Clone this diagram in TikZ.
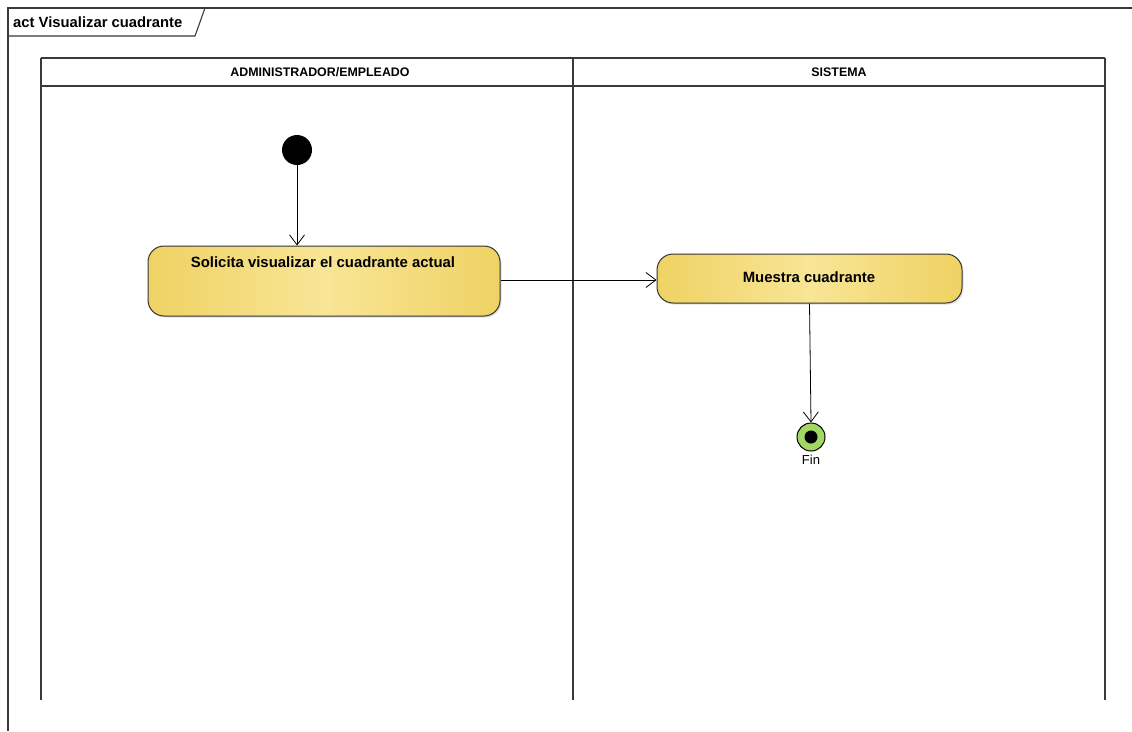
\documentclass[tikz,border=0pt]{standalone}
\usepackage{fontspec}
\setmainfont{Liberation Sans}
\usetikzlibrary{arrows.meta,shadows}
\definecolor{lanegray}{HTML}{3A3A3A}
\definecolor{golddark}{HTML}{EFD263}
\definecolor{goldlight}{HTML}{F8E596}
\definecolor{endgreen}{HTML}{A2D764}
\tikzset{
  lane/.style={draw=lanegray, line width=1.4pt},
  frameline/.style={draw=lanegray, line width=1.1pt},
  action/.style={draw=black!80, line width=1pt, rounded corners=16pt,
    left color=golddark, right color=golddark, middle color=goldlight,
    drop shadow={shadow xshift=1.5pt, shadow yshift=-1.5pt, opacity=0.25}},
  acttext/.style={font=\fontsize{14.9}{17}\selectfont\bfseries},
  flow/.style={draw=black, line width=0.8pt, -{Straight Barb[length=10pt,width=15pt,line width=0.8pt]}},
  hdr/.style={font=\fontsize{12.4}{14}\selectfont\bfseries, text=black}
}
\begin{document}
\begin{tikzpicture}[x=1pt,y=-1pt]
\useasboundingbox (0,0) rectangle (1132,731);
\fill[white] (0,0) rectangle (1132,731);

% diagram frame with its name tab
\draw[frameline] (1132,8) -- (8,8) -- (8,731);
\draw[frameline] (8,36) -- (195,36) -- (205,8);
\node[anchor=west, font=\fontsize{14.8}{16}\selectfont\bfseries, inner sep=0pt] (title) at (13,22) {act Visualizar cuadrante};

% swimlanes
\draw[lane] (41,58) -- (1105,58);
\draw[lane] (41,86) -- (1105,86);
\draw[lane] (41,58) -- (41,700);
\draw[lane] (573,58) -- (573,700);
\draw[lane] (1105,58) -- (1105,700);
\node[hdr] (laneA) at (320,72) {ADMINISTRADOR/EMPLEADO};
\node[hdr] (laneB) at (839,72) {SISTEMA};

% initial node
\node[circle, fill=black, minimum size=30pt, inner sep=0pt] (start) at (297,150) {};

% actions
\node[action, minimum width=352pt, minimum height=70pt, inner sep=0pt] (solicita) at (324,281) {};
\node[acttext] (solicitaText) at (323,262) {Solicita visualizar el cuadrante actual};
\node[action, minimum width=305pt, minimum height=49pt, inner sep=0pt] (muestra) at (809.5,278.5) {};
\node[acttext] (muestraText) at (809,277) {Muestra cuadrante};

% final node
\node[circle, draw=black, line width=1pt, fill=endgreen, minimum size=28pt, inner sep=0pt] (fin) at (811,437) {};
\fill[black] (fin.center) circle (6.5pt);
\node[font=\fontsize{13}{14}\selectfont, anchor=north, inner sep=0pt] (finlabel) at (811,455) {Fin};

% control flows
\draw[flow] (start.south) -- (start.south |- solicita.north);
\draw[flow] (solicita.east |- 0,280) -- (muestra.west |- 0,280);
\draw[flow] (muestra.south) -- (fin.north);
\end{tikzpicture}
\end{document}
